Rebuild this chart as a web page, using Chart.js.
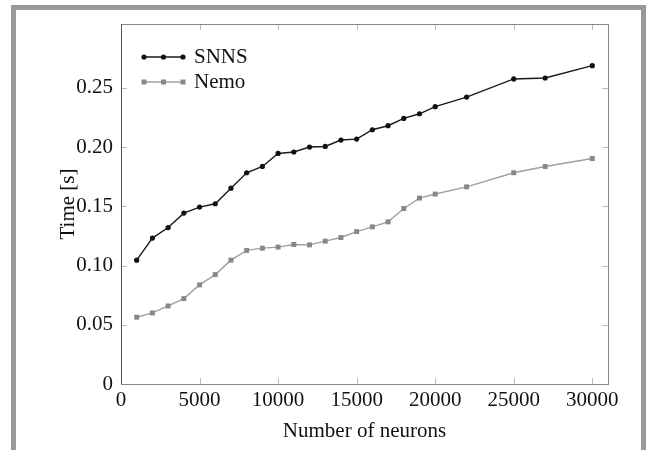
<!DOCTYPE html>
<html>
<head>
<meta charset="utf-8">
<script src="https://cdn.jsdelivr.net/npm/chart.js@4/dist/chart.umd.min.js"></script>
<style>
  body { margin: 0; background: #fff; }
  #box { position: absolute; left: 11px; top: 5px; width: 625px; height: 440px; border: 5px solid #999; }
  #wrap { position: absolute; left: 0; top: 0; width: 646px; height: 450px; }
</style>
</head>
<body>
<div id="box"></div>
<div id="wrap"><canvas id="chart" width="646" height="450"></canvas></div>
<script>
// neuron counts and run times
const neurons = [1000, 2000, 3000, 4000, 5000, 6000, 7000, 8000, 9000, 10000, 11000, 12000,
                 13000, 14000, 15000, 16000, 17000, 18000, 19000, 20000, 22000, 25000, 27000, 30000];
const snnsTime = [0.1046, 0.1232, 0.1321, 0.1443, 0.1494, 0.1522, 0.1654, 0.1784, 0.1837, 0.1947, 0.1959, 0.2001,
                  0.2006, 0.2060, 0.2068, 0.2147, 0.2181, 0.2243, 0.2282, 0.2342, 0.2423, 0.2576, 0.2584, 0.2688];
const nemoTime = [0.0564, 0.0600, 0.0659, 0.0721, 0.0837, 0.0924, 0.1046, 0.1128, 0.1147, 0.1156, 0.1178, 0.1175,
                  0.1206, 0.1237, 0.1287, 0.1327, 0.1369, 0.1482, 0.1570, 0.1604, 0.1665, 0.1784, 0.1837, 0.1904];
const xTicks = [0, 5000, 10000, 15000, 20000, 25000, 30000];
const yTicks = [0, 0.05, 0.10, 0.15, 0.20, 0.25];
const yLabels = ['0', '0.05', '0.10', '0.15', '0.20', '0.25'];

const FONT = "'Liberation Serif', 'Times New Roman', serif";

// box around the plot, inward tick marks and the legend
const framePlugin = {
  id: 'framePlugin',
  beforeDatasetsDraw(chart) {
    const { ctx, chartArea: a, scales: { x, y } } = chart;
    ctx.save();
    ctx.strokeStyle = '#bbb';
    ctx.lineWidth = 1;
    ctx.beginPath();
    xTicks.forEach(v => {
      const px = Math.round(x.getPixelForValue(v)) + 0.5;
      ctx.moveTo(px, a.bottom); ctx.lineTo(px, a.bottom - 6);
      ctx.moveTo(px, a.top); ctx.lineTo(px, a.top + 6);
    });
    yTicks.forEach(v => {
      const py = Math.round(y.getPixelForValue(v)) + 0.5;
      ctx.moveTo(a.left, py); ctx.lineTo(a.left + 6, py);
      ctx.moveTo(a.right, py); ctx.lineTo(a.right - 6, py);
    });
    ctx.stroke();
    ctx.restore();
  },
  afterDatasetsDraw(chart) {
    const { ctx, chartArea: a } = chart;
    ctx.save();
    ctx.lineWidth = 1;
    ctx.strokeStyle = '#888';
    ctx.strokeRect(Math.round(a.left) + 0.5, Math.round(a.top) + 0.5,
                   Math.round(a.right - a.left), Math.round(a.bottom - a.top));
    ctx.strokeStyle = '#555';
    ctx.beginPath();
    ctx.moveTo(Math.round(a.left) + 0.5, a.top);
    ctx.lineTo(Math.round(a.left) + 0.5, a.bottom);
    ctx.stroke();

    // legend: line with three markers, then the label
    chart.data.datasets.forEach((ds, i) => {
      const ly = 57 + i * 25;
      const x0 = 144, x1 = 183;
      ctx.strokeStyle = ds.borderColor;
      ctx.lineWidth = ds.borderWidth;
      ctx.beginPath();
      ctx.moveTo(x0, ly); ctx.lineTo(x1, ly);
      ctx.stroke();
      ctx.fillStyle = ds.pointBackgroundColor;
      [x0, (x0 + x1) / 2, x1].forEach(mx => {
        if (ds.pointStyle === 'rect') {
          ctx.fillRect(mx - 2.5, ly - 2.5, 5, 5);
        } else {
          ctx.beginPath();
          ctx.arc(mx, ly, 2.6, 0, Math.PI * 2);
          ctx.fill();
        }
      });
      ctx.fillStyle = '#111';
      ctx.font = '21px ' + FONT;
      ctx.textBaseline = 'middle';
      ctx.textAlign = 'left';
      ctx.fillText(ds.label, 194, ly);
    });
    ctx.restore();
  }
};

new Chart(document.getElementById('chart'), {
  type: 'line',
  data: {
    datasets: [
      {
        label: 'SNNS',
        data: neurons.map((n, i) => ({ x: n, y: snnsTime[i] })),
        borderColor: '#1a1a1a',
        backgroundColor: '#111',
        pointBackgroundColor: '#111',
        pointBorderColor: '#111',
        borderWidth: 1.4,
        pointRadius: 2.6,
        pointBorderWidth: 0,
        pointStyle: 'circle',
        tension: 0
      },
      {
        label: 'Nemo',
        data: neurons.map((n, i) => ({ x: n, y: nemoTime[i] })),
        borderColor: '#a0a0a0',
        backgroundColor: '#888',
        pointBackgroundColor: '#888',
        pointBorderColor: '#888',
        borderWidth: 1.4,
        pointRadius: 3.5,
        pointBorderWidth: 0,
        pointStyle: 'rect',
        tension: 0
      }
    ]
  },
  options: {
    responsive: false,
    animation: false,
    devicePixelRatio: 1,
    layout: { padding: { left: 0, top: 24, right: 38, bottom: 0 } },
    plugins: { legend: { display: false }, tooltip: { enabled: false } },
    scales: {
      x: {
        type: 'linear',
        min: 0,
        max: 31000,
        afterBuildTicks: s => { s.ticks = xTicks.map(v => ({ value: v })); },
        afterFit: s => { s.height = 66; },
        grid: { display: false, drawTicks: false },
        border: { display: false },
        ticks: {
          color: '#111',
          font: { family: FONT, size: 21 },
          padding: 4,
          maxRotation: 0,
          callback: v => String(v)
        },
        title: {
          display: true,
          text: 'Number of neurons',
          color: '#111',
          font: { family: FONT, size: 21 },
          padding: { top: 0, bottom: 6 }
        }
      },
      y: {
        type: 'linear',
        min: 0,
        max: 0.304,
        afterBuildTicks: s => { s.ticks = yTicks.map(v => ({ value: v })); },
        afterFit: s => { s.width = 121; },
        grid: { display: false, drawTicks: false },
        border: { display: false },
        ticks: {
          color: '#111',
          font: { family: FONT, size: 21 },
          padding: 8,
          callback: (v, i) => yLabels[i]
        },
        title: {
          display: true,
          text: 'Time [s]',
          color: '#111',
          font: { family: FONT, size: 21 },
          padding: { top: 56, bottom: 0 }
        }
      }
    }
  },
  plugins: [framePlugin]
});
</script>
</body>
</html>
